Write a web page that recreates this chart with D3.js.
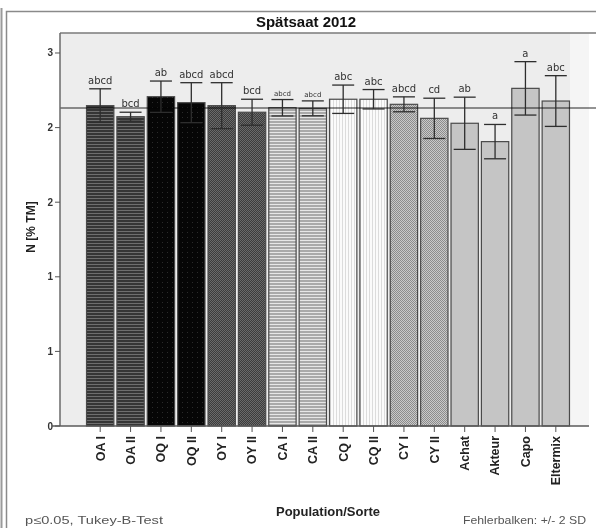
<!DOCTYPE html>
<html><head><meta charset="utf-8">
<script src="https://cdn.jsdelivr.net/npm/d3@7"></script>
<style>body{margin:0;background:#fff}svg{display:block}</style>
</head><body>
<svg id="chart" width="596" height="528"></svg>
<script>
// ---- data ----
const categories = ["OA I","OA II","OQ I","OQ II","OY I","OY II","CA I","CA II","CQ I","CQ II","CY I","CY II","Achat","Akteur","Capo","Eltermix"];
const means      = [2.147,2.073,2.207,2.167,2.147,2.103,2.133,2.129,2.190,2.190,2.156,2.062,2.029,1.906,2.263,2.178];
const errors     = [0.113,0.030,0.105,0.134,0.154,0.087,0.055,0.050,0.095,0.065,0.050,0.135,0.175,0.115,0.179,0.170];
const letters    = ["abcd","bcd","ab","abcd","abcd","bcd","abcd","abcd","abc","abc","abcd","cd","ab","a","a","abc"];
const patternKeys= ["OA","OA","OQ","OQ","OY","OY","CA","CA","CQ","CQ","CY","CY","S","S","S","S"];
const yTickValues = [0,0.5,1,1.5,2,2.5];
const yTickLabels = ["0","1","1","2","2","3"];
const referenceValue = 2.131;
const titleText = "Spätsaat 2012";
const yTitle = "N [% TM]";
const xTitle = "Population/Sorte";
const noteLeft = "p≤0.05, Tukey-B-Test";
const noteRight = "Fehlerbalken: +/- 2 SD";

const svg = d3.select("#chart");
const FONT = "Liberation Sans, Arial, sans-serif";

// ---- patterns ----
const defs = svg.append("defs");
function pat(id, w, h, draw){
  const p = defs.append("pattern").attr("id",id).attr("patternUnits","userSpaceOnUse").attr("width",w).attr("height",h);
  draw(p);
}
pat("OA",4,3,p=>{p.append("rect").attr("width",4).attr("height",3).attr("fill","#353535");p.append("rect").attr("width",4).attr("height",1).attr("fill","#6e6e6e");});
pat("OQ",5,5,p=>{p.append("rect").attr("width",5).attr("height",5).attr("fill","#060606");p.append("rect").attr("x",2).attr("y",2).attr("width",1).attr("height",1).attr("fill","#2a2a2a");});
pat("OY",2,2,p=>{p.append("rect").attr("width",2).attr("height",2).attr("fill","#3c3c3c");p.append("rect").attr("width",1).attr("height",1).attr("fill","#6a6a6a");p.append("rect").attr("x",1).attr("y",1).attr("width",1).attr("height",1).attr("fill","#6a6a6a");});
pat("CA",4,3,p=>{p.append("rect").attr("width",4).attr("height",3).attr("fill","#a9a9a9");p.append("rect").attr("width",4).attr("height",1).attr("fill","#e6e6e6");});
pat("CQ",3,4,p=>{p.append("rect").attr("width",3).attr("height",4).attr("fill","#fbfbfb");p.append("rect").attr("width",1).attr("height",4).attr("fill","#dcdcdc");});
pat("CY",2,2,p=>{p.append("rect").attr("width",2).attr("height",2).attr("fill","#c9c9c9");p.append("rect").attr("width",1).attr("height",1).attr("fill","#8c8c8c");p.append("rect").attr("x",1).attr("y",1).attr("width",1).attr("height",1).attr("fill","#8c8c8c");});
const fillFor = k => k==="S" ? "#c5c5c5" : `url(#${k})`;

// ---- frame ----
svg.append("line").attr("x1",1.5).attr("x2",1.5).attr("y1",8).attr("y2",528).attr("stroke","#9a9a9a").attr("stroke-width",2);
svg.append("rect").attr("x",6.5).attr("y",11.5).attr("width",600).attr("height",530).attr("fill","none").attr("stroke","#8a8a8a").attr("stroke-width",1.5);

// ---- scales ----
const plotL = 60, plotR = 589, plotT = 33, plotB = 426;
const y = d3.scaleLinear().domain([0, 2.634]).range([plotB, plotT]);
const x = d3.scaleBand().domain(categories).range([85, 571]).paddingInner(0.1).paddingOuter(0.05);

// plot background
svg.append("rect").attr("x",plotL).attr("y",plotT).attr("width",plotR-plotL).attr("height",plotB-plotT).attr("fill","#ededed");
svg.append("rect").attr("x",x.range()[1]-1).attr("y",plotT).attr("width",plotR-x.range()[1]+1).attr("height",plotB-plotT).attr("fill","#f5f5f5");
svg.append("line").attr("x1",plotL).attr("x2",596).attr("y1",plotT).attr("y2",plotT).attr("stroke","#7a7a7a").attr("stroke-width",1.5);

// title
svg.append("text").attr("x",306).attr("y",27).attr("text-anchor","middle")
  .attr("font-family",FONT).attr("font-weight","bold").attr("font-size",15).attr("fill","#111").text(titleText);

// bars
const g = svg.append("g");
g.selectAll("rect.bar").data(categories).join("rect").attr("class","bar")
  .attr("x",d=>x(d)).attr("width",x.bandwidth())
  .attr("y",(d,i)=>y(means[i])).attr("height",(d,i)=>y(0)-y(means[i]))
  .attr("fill",(d,i)=>fillFor(patternKeys[i]))
  .attr("stroke","#4a4a4a").attr("stroke-width",1.2);

// reference line
svg.append("line").attr("x1",plotL).attr("x2",596).attr("y1",y(referenceValue)).attr("y2",y(referenceValue))
  .attr("stroke","#939393").attr("stroke-width",2).style("mix-blend-mode","multiply");

// error bars
const capW = 22;
const eb = svg.append("g").attr("stroke","#2e2e2e").attr("stroke-width",1.3);
categories.forEach((c,i)=>{
  const cx = x(c)+x.bandwidth()/2;
  const top = y(means[i]+errors[i]), bot = y(means[i]-errors[i]);
  eb.append("line").attr("x1",cx).attr("x2",cx).attr("y1",top).attr("y2",bot);
  eb.append("line").attr("x1",cx-capW/2).attr("x2",cx+capW/2).attr("y1",top).attr("y2",top);
  eb.append("line").attr("x1",cx-capW/2).attr("x2",cx+capW/2).attr("y1",bot).attr("y2",bot);
});

// letters
svg.append("g").selectAll("text").data(categories).join("text")
  .attr("x",d=>x(d)+x.bandwidth()/2)
  .attr("y",(d,i)=>y(means[i]+errors[i])-(d.startsWith("CA")?4:5))
  .attr("text-anchor","middle").attr("font-family","DejaVu Sans, sans-serif")
  .attr("font-size",(d)=>d.startsWith("CA")?7:10).attr("fill","#333")
  .text((d,i)=>letters[i]);

// y axis
const ya = svg.append("g");
ya.append("line").attr("x1",plotL).attr("x2",plotL).attr("y1",plotT).attr("y2",plotB).attr("stroke","#6a6a6a").attr("stroke-width",1.5);
yTickValues.forEach((v,i)=>{
  ya.append("line").attr("x1",plotL-5).attr("x2",plotL).attr("y1",y(v)).attr("y2",y(v)).attr("stroke","#555");
  ya.append("text").attr("x",plotL-7).attr("y",y(v)).attr("dy","0.35em").attr("text-anchor","end")
    .attr("font-family",FONT).attr("font-weight","bold").attr("font-size",10).attr("fill","#333").text(yTickLabels[i]);
});
svg.append("text").attr("transform",`translate(31,${227}) rotate(-90)`).attr("dy","0.35em").attr("text-anchor","middle")
  .attr("font-family",FONT).attr("font-weight","bold").attr("font-size",12).attr("fill","#222").text(yTitle);

// x axis
const xa = svg.append("g");
xa.append("line").attr("x1",plotL-8).attr("x2",plotR).attr("y1",plotB).attr("y2",plotB).attr("stroke","#5a5a5a").attr("stroke-width",1.5);
categories.forEach(c=>{
  const cx = x(c)+x.bandwidth()/2;
  xa.append("line").attr("x1",cx).attr("x2",cx).attr("y1",plotB).attr("y2",plotB+6).attr("stroke","#555");
  xa.append("text").attr("transform",`translate(${cx},${plotB+10}) rotate(-90)`).attr("dy","0.35em").attr("text-anchor","end")
    .attr("font-family",FONT).attr("font-weight","bold").attr("font-size",12.5).attr("fill","#222").text(c);
});
svg.append("text").attr("x",328).attr("y",516).attr("text-anchor","middle")
  .attr("font-family",FONT).attr("font-weight","bold").attr("font-size",13).attr("fill","#222").text(xTitle);
svg.append("text").attr("x",25).attr("y",524).attr("textLength",138).attr("lengthAdjust","spacingAndGlyphs")
  .attr("font-family",FONT).attr("font-size",11).attr("fill","#555").text(noteLeft);
svg.append("text").attr("x",463).attr("y",524).attr("textLength",123).attr("lengthAdjust","spacingAndGlyphs")
  .attr("font-family",FONT).attr("font-size",11).attr("fill","#555").text(noteRight);
</script>
</body></html>
